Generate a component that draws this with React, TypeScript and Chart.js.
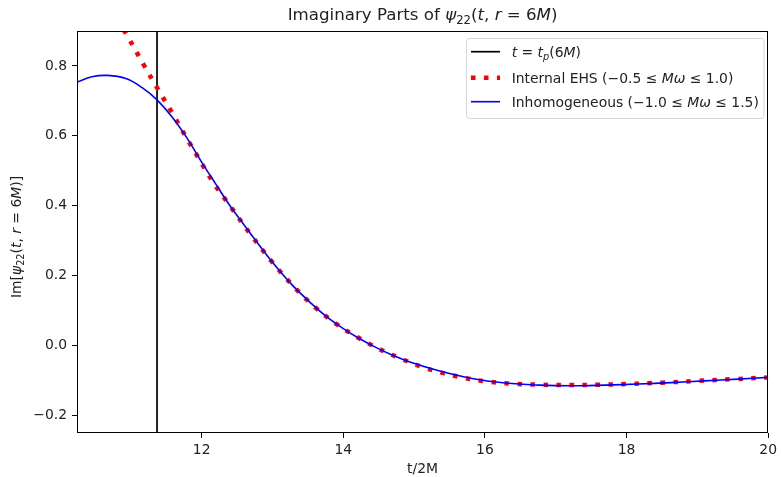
import React, { useEffect, useRef } from "react";
import { Chart, registerables } from "chart.js";

Chart.register(...registerables);

// ---------- data ----------
const xTicks = [12, 14, 16, 18, 20];
const yTicks = [-0.2, 0, 0.2, 0.4, 0.6, 0.8];
const tPeak = 11.37;

const inhomX = [10.24, 10.45, 10.67, 10.93, 11.16, 11.37, 11.58, 11.79, 12.0, 12.2, 12.4, 12.6, 12.81, 13.05, 13.28, 13.52, 13.75, 13.99, 14.22, 14.46, 14.69, 14.93, 15.3, 15.82, 16.29, 16.76, 17.23, 17.7, 18.16, 18.63, 19.1, 19.57, 20.0];
const inhomY = [0.754, 0.769, 0.773, 0.764, 0.738, 0.703, 0.655, 0.595, 0.525, 0.462, 0.4, 0.345, 0.288, 0.226, 0.173, 0.126, 0.085, 0.05, 0.021, -0.005, -0.027, -0.046, -0.069, -0.094, -0.107, -0.113, -0.115, -0.113, -0.11, -0.106, -0.101, -0.096, -0.091];

const ehsX = [10.8, 10.93, 11.2, 11.39, 11.58, 11.77, 11.96, 12.15, 12.4, 12.7, 13.0, 13.3, 13.6, 13.9, 14.2, 14.5, 14.8, 15.1, 15.4, 15.7, 16.0, 16.4, 16.8, 17.2, 17.6, 18.0, 18.5, 19.0, 19.5, 20.0];
const ehsY = [0.935, 0.893, 0.797, 0.731, 0.667, 0.6, 0.535, 0.471, 0.4, 0.316, 0.238, 0.169, 0.11, 0.062, 0.024, -0.009, -0.036, -0.06, -0.078, -0.092, -0.102, -0.109, -0.112, -0.113, -0.112, -0.11, -0.106, -0.101, -0.096, -0.091];

// ---------- rich text helpers ----------
type Seg = { t: string; it?: boolean; sub?: boolean };
const FAM = '"DejaVu Sans", sans-serif';
const TXT = "#222";
const FS = 13.9;

function segFont(s: Seg, size: number) {
  const sz = s.sub ? size * 0.7 : size;
  return `${s.it ? "italic " : ""}${sz}px ${FAM}`;
}
function richWidth(ctx: CanvasRenderingContext2D, segs: Seg[], size: number) {
  let w = 0;
  for (const s of segs) {
    ctx.font = segFont(s, size);
    w += ctx.measureText(s.t).width;
  }
  return w;
}
function drawRich(ctx: CanvasRenderingContext2D, segs: Seg[], x: number, y: number, size: number, align: "left" | "center") {
  const w = richWidth(ctx, segs, size);
  let cx = align === "center" ? x - w / 2 : x;
  ctx.textBaseline = "alphabetic";
  ctx.textAlign = "left";
  ctx.fillStyle = TXT;
  for (const s of segs) {
    ctx.font = segFont(s, size);
    ctx.fillText(s.t, cx, s.sub ? y + size * 0.22 : y);
    cx += ctx.measureText(s.t).width;
  }
}

const titleSegs: Seg[] = [
  { t: "Imaginary Parts of " }, { t: "ψ", it: true }, { t: "22", sub: true }, { t: "(" }, { t: "t", it: true },
  { t: ", " }, { t: "r", it: true }, { t: " = 6" }, { t: "M", it: true }, { t: ")" },
];
const yLabelSegs: Seg[] = [
  { t: "Im[" }, { t: "ψ", it: true }, { t: "22", sub: true }, { t: "(" }, { t: "t", it: true },
  { t: ", " }, { t: "r", it: true }, { t: " = 6" }, { t: "M", it: true }, { t: ")]" },
];
const legendRows: { segs: Seg[]; color: string; width: number; dash: number[] }[] = [
  { segs: [{ t: "t", it: true }, { t: " = " }, { t: "t", it: true }, { t: "p", it: true, sub: true }, { t: "(6" }, { t: "M", it: true }, { t: ")" }], color: "#000000", width: 1.7, dash: [] },
  { segs: [{ t: "Internal EHS (−0.5 ≤ " }, { t: "Mω", it: true }, { t: " ≤ 1.0)" }], color: "#ff0000", width: 4.5, dash: [4.5, 8.5] },
  { segs: [{ t: "Inhomogeneous (−1.0 ≤ " }, { t: "Mω", it: true }, { t: " ≤ 1.5)" }], color: "#0000ff", width: 1.6, dash: [] },
];

const decorPlugin = {
  id: "decor",
  afterDraw(chart: any) {
    const ctx: CanvasRenderingContext2D = chart.ctx;
    const a = chart.chartArea;
    ctx.save();
    // frame
    ctx.strokeStyle = "#000";
    ctx.lineWidth = 1;
    const L = Math.round(a.left) + 0.5, R = Math.round(a.right) - 0.5;
    const T = Math.round(a.top) + 0.5, B = Math.round(a.bottom) - 0.5;
    ctx.strokeRect(L, T, R - L, B - T);
    // title
    drawRich(ctx, titleSegs, (a.left + a.right) / 2, 20, 16.67, "center");
    // x label
    ctx.fillStyle = TXT;
    ctx.font = `${FS}px ${FAM}`;
    ctx.textAlign = "center";
    ctx.textBaseline = "alphabetic";
    ctx.fillText("t/2M", (a.left + a.right) / 2, 473);
    // y label
    ctx.save();
    ctx.translate(21, 237);
    ctx.rotate(-Math.PI / 2);
    drawRich(ctx, yLabelSegs, 0, 0, FS, "center");
    ctx.restore();
    // legend
    const lx = 466.5, ly = 38.5, lw = 297.5, lh = 80;
    ctx.beginPath();
    const r = 3;
    ctx.moveTo(lx + r, ly);
    ctx.arcTo(lx + lw, ly, lx + lw, ly + lh, r);
    ctx.arcTo(lx + lw, ly + lh, lx, ly + lh, r);
    ctx.arcTo(lx, ly + lh, lx, ly, r);
    ctx.arcTo(lx, ly, lx + lw, ly, r);
    ctx.closePath();
    ctx.fillStyle = "rgba(255,255,255,0.8)";
    ctx.fill();
    ctx.strokeStyle = "#d6d6d6";
    ctx.lineWidth = 1;
    ctx.stroke();
    const rowsY = [51.7, 77.7, 101.7];
    legendRows.forEach((row, i) => {
      const cy = rowsY[i];
      ctx.save();
      ctx.strokeStyle = row.color;
      ctx.lineWidth = row.width;
      ctx.lineCap = "butt";
      ctx.setLineDash(row.dash);
      ctx.beginPath();
      ctx.moveTo(471, cy);
      ctx.lineTo(500, cy);
      ctx.stroke();
      ctx.restore();
      drawRich(ctx, row.segs, 511.7, cy + 5, FS, "left");
    });
    ctx.restore();
  },
};

const fmt = (v: number) => (v < 0 ? "−" + Math.abs(v).toFixed(1) : v.toFixed(1));

export default function App() {
  const ref = useRef<HTMLCanvasElement | null>(null);
  useEffect(() => {
    if (!ref.current) return;
    const chart = new Chart(ref.current, {
      type: "line",
      data: {
        datasets: [
          {
            label: "Inhomogeneous",
            data: inhomX.map((x, i) => ({ x, y: inhomY[i] })),
            borderColor: "#0000ff",
            borderWidth: 1.6,
            pointRadius: 0,
            tension: 0.4,
            order: 0,
          },
          {
            label: "Internal EHS",
            data: ehsX.map((x, i) => ({ x, y: ehsY[i] })),
            borderColor: "#ff0000",
            borderWidth: 4.5,
            borderDash: [4.5, 8.5],
            borderCapStyle: "butt",
            pointRadius: 0,
            tension: 0.4,
            order: 1,
          },
          {
            label: "t_p",
            data: [{ x: tPeak, y: -0.3 }, { x: tPeak, y: 1.0 }],
            borderColor: "#000000",
            borderWidth: 1.7,
            pointRadius: 0,
            order: 2,
          },
        ],
      } as any,
      options: {
        animation: false,
        responsive: false,
        devicePixelRatio: 1,
        layout: { padding: { left: 0, right: 10, top: 31, bottom: 0 } },
        plugins: { legend: { display: false }, tooltip: { enabled: false }, title: { display: false } },
        scales: {
          x: {
            type: "linear",
            min: 10.24,
            max: 20,
            afterBuildTicks: (s: any) => { s.ticks = xTicks.map((v) => ({ value: v })); },
            afterFit: (s: any) => { s.height = 44; },
            ticks: { font: { family: "DejaVu Sans", size: FS }, color: TXT, padding: 4, maxRotation: 0, callback: (v: any) => String(v) },
            grid: { drawOnChartArea: false, drawTicks: true, tickLength: 5, color: "#000" },
            border: { display: false },
          },
          y: {
            type: "linear",
            min: -0.25,
            max: 0.9,
            afterBuildTicks: (s: any) => { s.ticks = yTicks.map((v) => ({ value: v })); },
            afterFit: (s: any) => { s.width = 77; },
            ticks: { font: { family: "DejaVu Sans", size: FS }, color: TXT, padding: 5, callback: (v: any) => fmt(Number(v)) },
            grid: { drawOnChartArea: false, drawTicks: true, tickLength: 5, color: "#000" },
            border: { display: false },
          },
        },
      } as any,
      plugins: [decorPlugin],
    });
    return () => chart.destroy();
  }, []);
  return (
    <div style={{ position: "absolute", left: 0, top: 0, width: 781, height: 477, background: "#fff" }}>
      <canvas ref={ref} width={781} height={477} style={{ width: 781, height: 477, display: "block" }} />
    </div>
  );
}
